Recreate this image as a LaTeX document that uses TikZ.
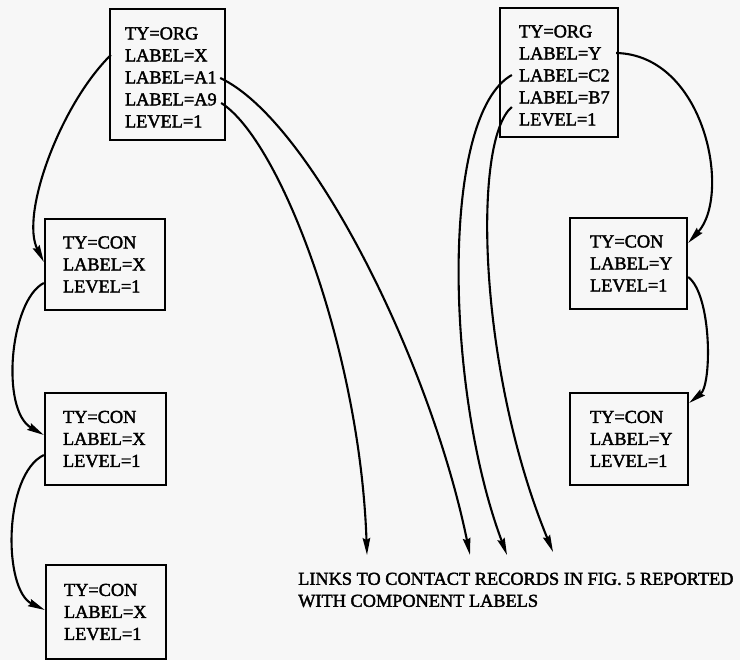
\documentclass[tikz,border=0pt]{standalone}
\usepackage{fontspec}
\setmainfont{Liberation Serif}
\newfontfamily\scanfont{Liberation Serif}[FakeBold=2]
\usetikzlibrary{arrows.meta}
\begin{document}
\begin{tikzpicture}[x=1pt,y=-1pt,
  rec/.style={draw, line width=2.3pt, align=left, font=\scanfont\fontsize{18.3}{22}\selectfont, inner ysep=0pt},
  link/.style={line width=2.1pt, -{Stealth[length=17pt,width=7.5pt,inset=2pt]}},
  note/.style={align=left, font=\scanfont\fontsize{18.3}{22}\selectfont, inner sep=0pt, anchor=north west}]
\fill[black!3] (0,0) rectangle (740,660);
\useasboundingbox (0,0) rectangle (740,660);

\node[rec, minimum width=115pt, minimum height=131pt, text width=85pt, inner xsep=15pt] (orgx) at (167.5,74.5) {\rule{0pt}{18pt}TY=ORG\\LABEL=X\\LABEL=A1\\LABEL=A9\\LEVEL=1};
\node[rec, minimum width=118pt, minimum height=129pt, text width=80pt, inner xsep=19pt] (orgy) at (559,72.5) {\rule{0pt}{18pt}TY=ORG\\LABEL=Y\\LABEL=C2\\LABEL=B7\\LEVEL=1};

\node[rec, minimum width=120pt, minimum height=91pt, text width=84pt, inner xsep=18pt] (cx1) at (105,264.5) {TY=CON\\LABEL=X\\LEVEL=1};
\node[rec, minimum width=121pt, minimum height=92pt, text width=85pt, inner xsep=18pt] (cx2) at (105.5,439) {TY=CON\\LABEL=X\\LEVEL=1};
\node[rec, minimum width=120pt, minimum height=94pt, text width=84pt, inner xsep=18pt] (cx3) at (106,612) {TY=CON\\LABEL=X\\LEVEL=1};

\node[rec, minimum width=117pt, minimum height=91pt, text width=77pt, inner xsep=20pt] (cy1) at (628.5,263.5) {TY=CON\\LABEL=Y\\LEVEL=1};
\node[rec, minimum width=118pt, minimum height=92pt, text width=78pt, inner xsep=20pt] (cy2) at (629,439) {TY=CON\\LABEL=Y\\LEVEL=1};

\node[note] (txt) at (298,572.5) {LINKS TO CONTACT RECORDS IN FIG. 5 REPORTED\\WITH COMPONENT LABELS};

\coordinate (e1) at (367,555);
\coordinate (e2) at (470,555);
\coordinate (e3) at (507,555);
\coordinate (e4) at (553,552);

% left chain
\draw[link] ([xshift=2pt,yshift=19.5pt]orgx.west) .. controls (60,105) and (20,215) .. ([yshift=2.5pt]cx1.west);
\draw[link] ([yshift=-18.5pt]cx1.west) .. controls (10,300) and (0,410) .. ([yshift=4pt]cx2.west);
\draw[link] ([yshift=-16pt]cx2.west) .. controls (3,475) and (3,590) .. ([yshift=2pt]cx3.west);

% right chain
\draw[link] ([xshift=-3pt,yshift=19.5pt]orgy.east) .. controls (705,55) and (732,195) .. ([yshift=20.5pt]cy1.east);
\draw[link] ([yshift=-13.5pt]cy1.east) .. controls (712,295) and (712,385) .. ([yshift=36pt]cy2.east);

% links to contact records
\draw[link] ([xshift=-6pt,yshift=-3.5pt]orgx.east) .. controls (310,120) and (430,360) .. (e2);
\draw[link] ([xshift=-5pt,yshift=-28.5pt]orgx.east) .. controls (280,140) and (360,350) .. (e1);
\draw[link] ([xshift=13pt,yshift=-2.5pt]orgy.west) .. controls (440,115) and (445,390) .. (e3);
\draw[link] ([xshift=13pt,yshift=-34.5pt]orgy.west) .. controls (472,140) and (478,370) .. (e4);
\end{tikzpicture}
\end{document}
